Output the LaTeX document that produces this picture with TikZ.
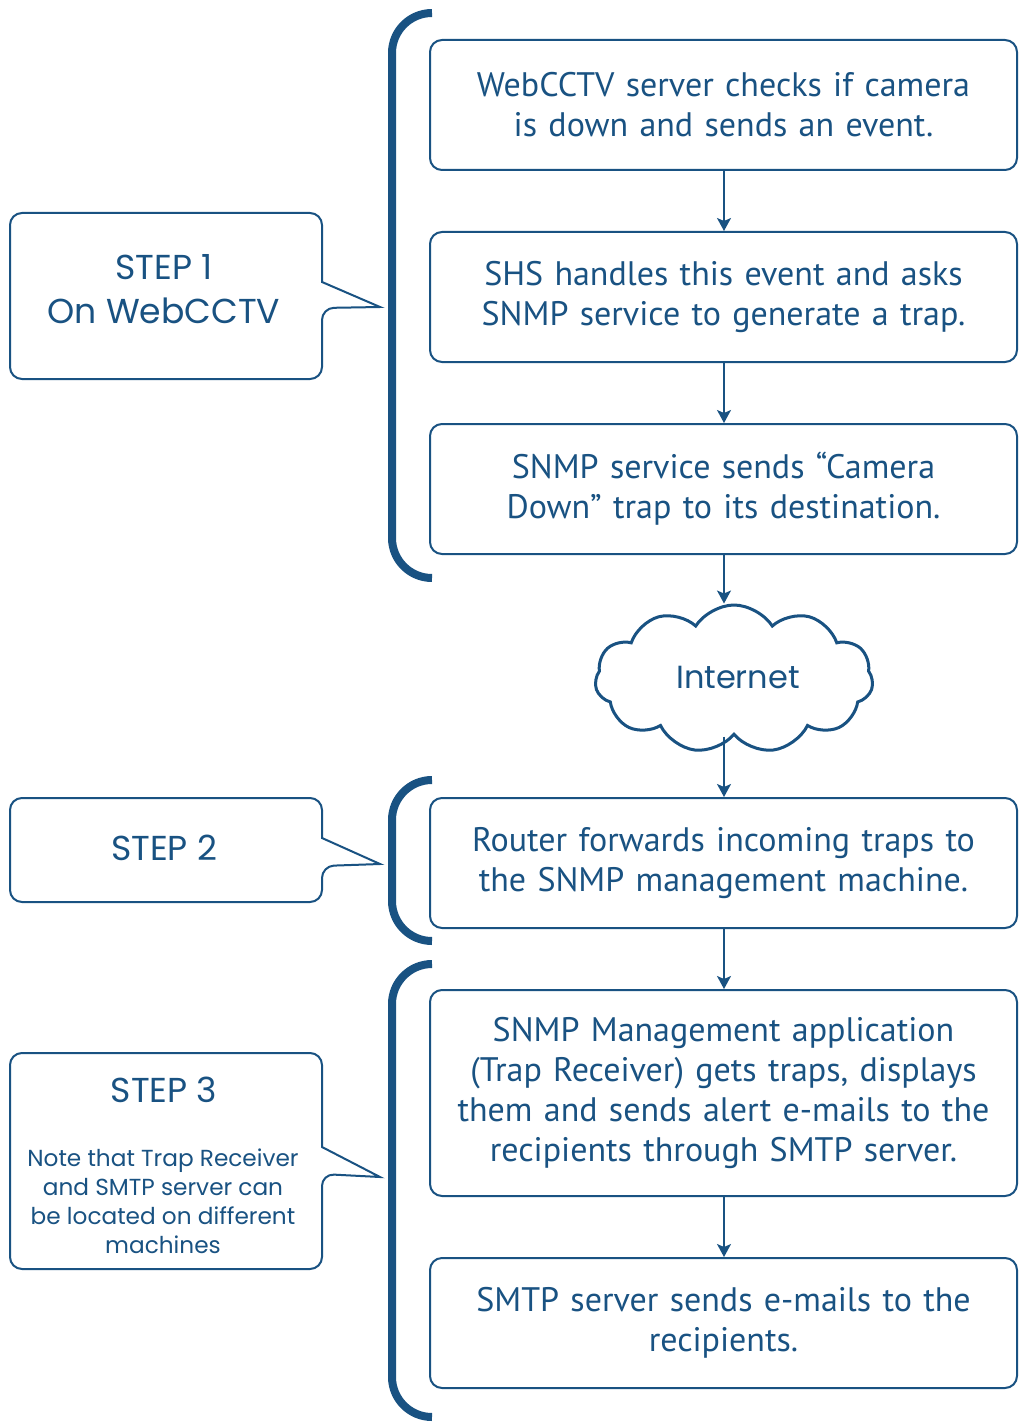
\documentclass[tikz,border=0pt]{standalone}
\usepackage{fontspec}
\setmainfont{PT Sans}
\newfontfamily\geo{Poppins}
\usetikzlibrary{shapes.symbols,arrows.meta}
\definecolor{dblue}{RGB}{25,82,130}
\begin{document}
\begin{tikzpicture}[x=0.5pt,y=-0.5pt,
  flowbox/.style={draw=dblue, line width=1pt, rounded corners=6pt, minimum width=293.5pt, minimum height=65pt, text width=290pt, align=center, text=dblue, font=\fontsize{17}{20}\selectfont, inner sep=0pt},
  flowarrow/.style={draw=dblue, line width=0.8pt, -{Stealth[length=6.5pt,width=7pt,inset=1.5pt]}},
  bracket/.style={draw=dblue, line width=4pt, rounded corners=20pt},
  callout/.style={draw=dblue, line width=1pt, fill=white},
  calltext/.style={text=dblue, align=center, inner sep=0pt},
  cloudshape/.style={cloud, cloud puffs=11, cloud puff arc=115, aspect=1.9, draw=dblue, line width=1.5pt, minimum width=139pt, minimum height=74pt, inner sep=0pt}
]
\useasboundingbox (0,0) rectangle (1019,1423);
\fill[white] (0,0) rectangle (1019,1423);

% brackets
\draw[bracket] (432,13) -| (392,578) -- (432,578);
\draw[bracket] (432,780) -| (392,941) -- (432,941);
\draw[bracket] (432,964) -| (392,1417) -- (432,1417);

% flow boxes
\node[flowbox] (b1) at (723.5,105) {WebCCTV server checks if camera\\is down and sends an event.};
\node[flowbox] (b2) at (723.5,297) {SHS handles this event and asks\\SNMP service to generate a trap.};
\node[flowbox] (b3) at (723.5,489) {SNMP service sends “Camera\\Down” trap to its destination.};
\node[cloudshape] (net) at (734,679) {};
\node[text=dblue, font=\geo\fontsize{16}{20}\selectfont] (nettext) at (738,677) {Internet};
\node[flowbox] (b4) at (723.5,863) {Router forwards incoming traps to\\the SNMP management machine.};
\node[flowbox, minimum height=103pt] (b5) at (723.5,1093) {SNMP Management application\\(Trap Receiver) gets traps, displays\\them and sends alert e-mails to the\\recipients through SMTP server.};
\node[flowbox] (b6) at (723.5,1323) {SMTP server sends e-mails to the\\recipients.};

\draw[flowarrow] (b1.south -| 724,0) -- (b2.north -| 724,0);
\draw[flowarrow] (b2.south -| 724,0) -- (b3.north -| 724,0);
\draw[flowarrow] (b3.south -| 724,0) -- (net.north -| 724,0);
\draw[flowarrow] (net.south -| 724,0) -- (b4.north -| 724,0);
\draw[flowarrow] (b4.south -| 724,0) -- (b5.north -| 724,0);
\draw[flowarrow] (b5.south -| 724,0) -- (b6.north -| 724,0);

% callouts
\draw[callout] (322,282) [rounded corners=6pt] -- (322,213) -- (10,213) -- (10,379) -- (322,379) -- (322,308) [sharp corners] -- (380,307) -- cycle;
\node[calltext, font=\geo\fontsize{17.3}{22}\selectfont] (s1) at (164,289) {STEP 1\\On WebCCTV};

\draw[callout] (322,838) [rounded corners=6pt] -- (322,798) -- (10,798) -- (10,902) -- (322,902) -- (322,866) [sharp corners] -- (380,864) -- cycle;
\node[calltext, font=\geo\fontsize{17.3}{22}\selectfont] (s2) at (164,848) {STEP 2};

\draw[callout] (322,1147) [rounded corners=6pt] -- (322,1053) -- (10,1053) -- (10,1269) -- (322,1269) -- (322,1174) [sharp corners] -- (380,1177) -- cycle;
\node[calltext, font=\geo\fontsize{17.3}{22}\selectfont] (s3) at (164,1090) {STEP 3};
\node[calltext, font=\geo\fontsize{11.6}{14.5}\selectfont] (s3n) at (163,1201) {Note that Trap Receiver\\and SMTP server can\\be located on different\\machines};
\end{tikzpicture}
\end{document}
